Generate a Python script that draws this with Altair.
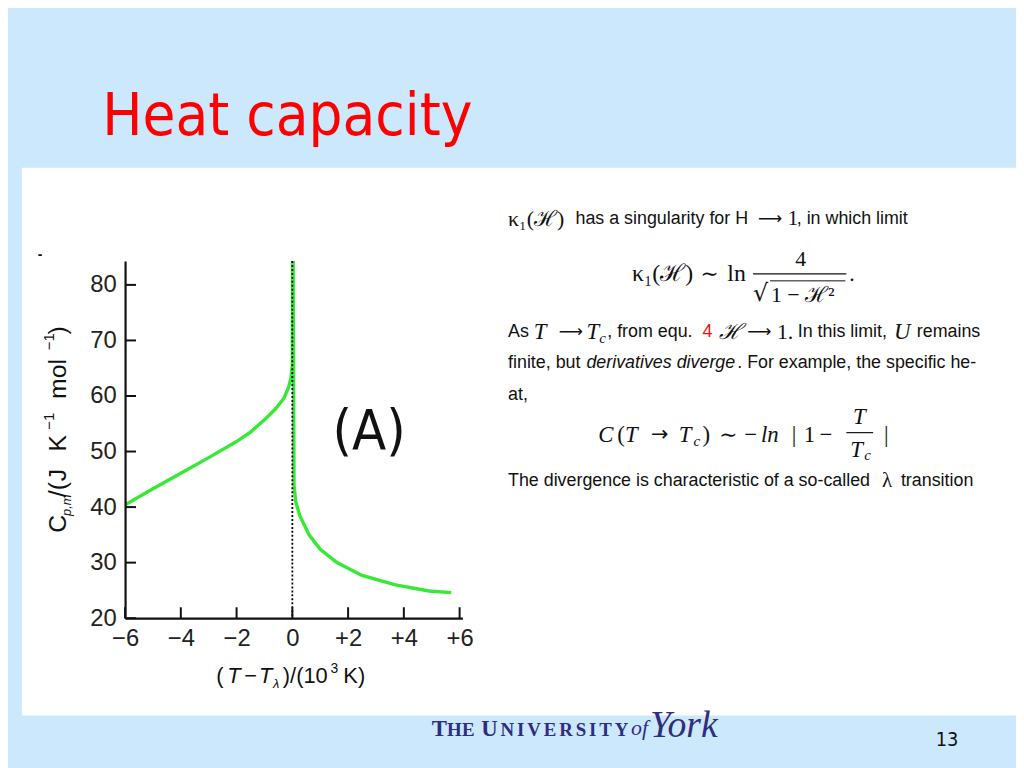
import altair as alt
import pandas as pd

# ---------------- data ----------------
left_dt = [-6.0, -5.0, -4.0, -3.0, -2.0, -1.5, -1.0, -0.6, -0.3, -0.14, -0.05, 0.0, 0.01]
left_cp = [40.4, 43.3, 46.1, 48.9, 51.8, 53.5, 55.7, 57.7, 59.6, 61.5, 63.2, 65.5, 84.5]
right_dt = [0.03, 0.06, 0.12, 0.27, 0.6, 1.0, 1.6, 2.5, 3.7, 4.9, 5.7]
right_cp = [84.5, 44.0, 41.0, 38.4, 35.0, 32.4, 30.0, 27.7, 26.0, 24.9, 24.6]
x_ticks = [-6, -4, -2, 0, 2, 4, 6]
y_ticks = [20, 30, 40, 50, 60, 70, 80]
x_domain = [-6, 6.1]
y_domain = [20, 84.3]

curve_df = pd.DataFrame({
    "dt": left_dt + right_dt,
    "cp": left_cp + right_cp,
    "idx": list(range(len(left_dt) + len(right_dt))),
})

# ---------------- layout ----------------
W, H = 340, 360
PL, PT = 118, 252
PR = 1016 - PL - W
PB = 760 - PT - H
OX, OY = 8 + PL, 8 + PT  # page position of plot-area origin

SANS = "Liberation Sans, Arial, Helvetica, sans-serif"
SERIF = "Liberation Serif, Times New Roman, DejaVu Serif, serif"
TAHOMA = "DejaVu Sans Condensed, DejaVu Sans, Verdana, sans-serif"
NARROW = "DejaVu Sans Condensed, Liberation Sans Narrow, sans-serif"
BG = "#CCE8FC"
INK = "#111111"
NAVY = "#2E2D80"
FS = 18  # body text size

one = pd.DataFrame({"k": [0]})


def txt(s, X, Y, size=FS, font=SANS, style="normal", weight="normal",
        color=INK, align="left", baseline="middle", angle=0):
    return alt.Chart(one).mark_text(
        text=s, fontSize=size, font=font, fontStyle=style, fontWeight=weight,
        color=color, align=align, baseline=baseline, angle=angle,
    ).encode(x=alt.value(X - OX), y=alt.value(Y - OY))


def hrule(X1, X2, Y, color=INK, width=1.2):
    return alt.Chart(one).mark_rule(color=color, strokeWidth=width).encode(
        x=alt.value(X1 - OX), x2=alt.value(X2 - OX), y=alt.value(Y - OY))


panel = alt.Chart(one).mark_rect(color="white").encode(
    x=alt.value(22 - OX), x2=alt.value(1030 - OX),
    y=alt.value(166 - OY), y2=alt.value(718 - OY))

xscale = alt.Scale(domain=x_domain, nice=False, zero=False)
yscale = alt.Scale(domain=y_domain, nice=False, zero=False)

xaxis = alt.Axis(values=x_ticks, title=None, grid=False, ticks=False,
                 labelExpr="datum.value > 0 ? '+' + datum.value : (datum.value < 0 ? '\u2212' + abs(datum.value) : '0')",
                 labelFont=SANS, labelFontSize=24, labelColor="#222",
                 labelPadding=9, labelFlush=False, labelOverlap=False,
                 domainColor=INK, domainWidth=2.2, zindex=1)
yaxis = alt.Axis(values=y_ticks, title=None, grid=False, ticks=False,
                 labelFont=SANS, labelFontSize=24, labelColor="#222",
                 labelPadding=9, labelFlush=False, labelOverlap=False,
                 domainColor=INK, domainWidth=2.2, zindex=1)

curve = alt.Chart(curve_df).mark_line(color="#34EA34", strokeWidth=3.4, clip=True).encode(
    x=alt.X("dt:Q", scale=xscale, axis=xaxis),
    y=alt.Y("cp:Q", scale=yscale, axis=yaxis),
    order="idx:Q",
)

dotted = alt.Chart(pd.DataFrame({"dt": [0]})).mark_rule(
    color="#000000", strokeDash=[2, 2], strokeWidth=1.8).encode(
    x="dt:Q", y=alt.value(0), y2=alt.value(H))

xt = alt.Chart(pd.DataFrame({"dt": x_ticks})).mark_rule(color=INK, strokeWidth=2).encode(
    x="dt:Q", y=alt.value(H), y2=alt.value(H - 11))
yt = alt.Chart(pd.DataFrame({"cp": y_ticks})).mark_rule(color=INK, strokeWidth=2).encode(
    y="cp:Q", x=alt.value(0), x2=alt.value(11))

texts = []
# slide title, footer
texts.append(txt("Heat capacity", 103, 133, size=60, font=TAHOMA, color="#FF0000", baseline="alphabetic"))
texts.append(txt("13", 943, 743, size=20, font=TAHOMA, color=INK))
for ch, X, sz in [("T", 435, 23), ("H", 450.5, 19), ("E", 465.5, 19),
                  ("U", 485, 23), ("N", 504.5, 19), ("I", 521.1, 19), ("V", 531.4, 19),
                  ("E", 548, 19), ("R", 563.6, 19), ("S", 580.2, 19), ("I", 593.7, 19),
                  ("T", 604, 19), ("Y", 619.6, 19)]:
    texts.append(txt(ch, X, 739, size=sz, font=SERIF, weight="bold", color=NAVY, baseline="alphabetic"))
texts.append(txt("of", 636, 738, size=22, font=SERIF, style="italic", color=NAVY, baseline="alphabetic"))
texts.append(txt("York", 655, 740, size=38, font=SERIF, style="italic", color=NAVY, baseline="alphabetic"))

# stray mark at top-left of the figure
texts.append(txt("-", 38, 254, size=14, font=SANS, weight="bold"))

# panel label "(A)"
texts.append(txt("(A)", 372, 449, size=56, font=NARROW, align="center", baseline="alphabetic"))

# y-axis title (rotated)
for s, Y, X, sz, st in [("C", 534, 66, 25, "normal"), ("p,m", 517, 71, 13, "italic"),
                        ("/(", 498, 66, 25, "normal"), ("J", 482, 66, 25, "normal"),
                        ("K", 452, 66, 25, "normal"), ("\u22121", 430, 54, 15, "normal"),
                        ("mol", 399, 66, 25, "normal"), ("\u22121", 350, 54, 15, "normal"),
                        (")", 334, 66, 25, "normal")]:
    texts.append(txt(s, X, Y, size=sz, style=st, baseline="alphabetic", angle=270))

# x-axis title
for s, X, Y, sz, st in [("(", 218, 685, 22, "normal"), ("T", 229, 685, 22, "italic"),
                        ("\u2212", 246, 685, 22, "normal"), ("T", 261, 685, 22, "italic"),
                        ("\u03bb", 275, 690, 13, "italic"), (")/(10", 285, 685, 22, "normal"),
                        ("3", 333, 675, 14, "normal"), ("K)", 346, 685, 22, "normal")]:
    texts.append(txt(s, X, Y, size=sz, style=st, baseline="alphabetic"))

# right-hand explanatory text
ARROW = "\u27f6"
y1 = 218
texts += [
    txt("\u03ba\u2081(\u210b)", 512, y1, size=22, font=SERIF),
    txt("has a singularity for H", 580, y1),
    txt(ARROW, 764, y1, size=17, font="DejaVu Sans"),
    txt("1", 794, y1, size=21, font=SERIF),
    txt(", in which limit", 803, y1),
]
# formula 1
y2 = 273
texts += [
    txt("\u03ba\u2081(\u210b)", 637, y2, size=24, font=SERIF),
    txt("\u223c", 706, y2, size=22, font=SERIF),
    txt("ln", 733, y2, size=24, font=SERIF),
    txt("4", 807, 258, size=22, font=SERIF, align="center"),
    txt("\u221a", 759, 293, size=24, font="DejaVu Sans"),
    txt("1 \u2212 \u210b\u00b2", 777, 294, size=22, font=SERIF),
    txt(".", 856, y2, size=22, font=SERIF),
]
fr = [hrule(759, 853, 273), hrule(776, 852, 280, width=1.0)]

y3 = 332
texts += [
    txt("As", 512, y3),
    txt("T", 538, y3, size=23, font=SERIF, style="italic"),
    txt(ARROW, 563, y3, size=17, font="DejaVu Sans"),
    txt("T", 591, y3, size=23, font=SERIF, style="italic"),
    txt("c", 604, y3 + 6, size=15, font=SERIF, style="italic"),
    txt(", from equ.", 612, y3),
    txt("4", 708, y3, color="#EE1111"),
    txt("\u210b", 725, y3, size=22, font=SERIF, style="italic"),
    txt(ARROW, 753, y3, size=17, font="DejaVu Sans"),
    txt("1.", 783, y3, size=22, font=SERIF),
    txt("In this limit,", 804, y3),
    txt("U", 901, y3, size=23, font=SERIF, style="italic"),
    txt("remains", 924, y3),
]
y4 = 363
texts += [
    txt("finite, but", 512, y4),
    txt("derivatives diverge", 591, y4, style="italic"),
    txt(". For example, the specific he-", 743, y4),
    txt("at,", 512, 395),
]
# formula 2
y6 = 435
texts += [
    txt("C", 603, y6, size=23, font=SERIF, style="italic"),
    txt("(", 622, y6, size=23, font=SERIF),
    txt("T", 630, y6, size=23, font=SERIF, style="italic"),
    txt("\u2192", 656, y6, size=21, font="DejaVu Sans"),
    txt("T", 684, y6, size=23, font=SERIF, style="italic"),
    txt("c", 699, y6 + 6, size=15, font=SERIF, style="italic"),
    txt(")", 708, y6, size=23, font=SERIF),
    txt("\u223c", 725, y6, size=22, font=SERIF),
    txt("\u2212", 750, y6, size=23, font=SERIF),
    txt("ln", 767, y6, size=23, font=SERIF, style="italic"),
    txt("|", 798, y6, size=23, font=SERIF),
    txt("1", 810, y6, size=23, font=SERIF),
    txt("\u2212", 826, y6, size=23, font=SERIF),
    txt("T", 866, 417, size=23, font=SERIF, style="italic", align="center"),
    txt("T", 857, 451, size=23, font=SERIF, style="italic"),
    txt("c", 871, 456, size=15, font=SERIF, style="italic"),
    txt("|", 891, y6, size=23, font=SERIF),
]
fr.append(hrule(853, 880, 433))
y7 = 482
texts += [
    txt("The divergence is characteristic of a so-called", 512, y7),
    txt("\u03bb", 889, y7, size=21, font=SERIF),
    txt("transition", 908, y7),
]

chart = alt.layer(panel, curve, dotted, xt, yt, *fr, *texts).properties(
    width=W, height=H,
    padding={"left": PL, "top": PT, "right": PR, "bottom": PB},
    autosize=alt.AutoSizeParams(type="none"),
    background=BG,
).configure_view(stroke=None)

chart.save("out.html", embed_options={"renderer": "svg", "actions": False})
